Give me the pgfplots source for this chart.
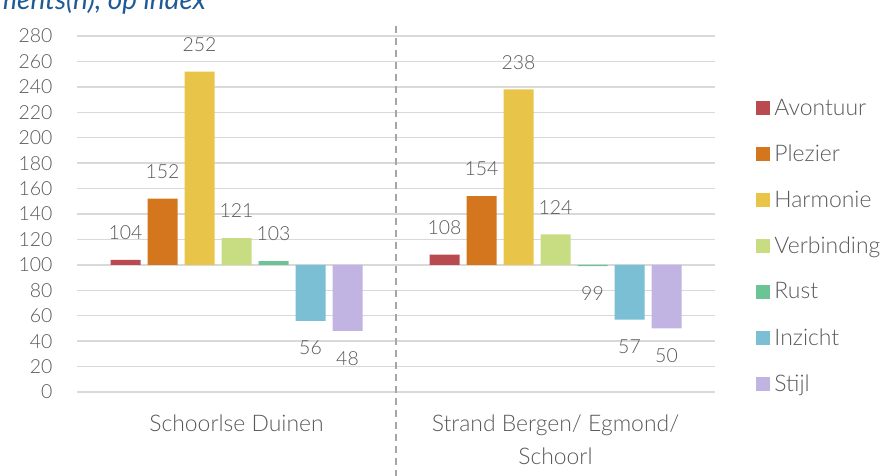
\documentclass[border=0pt]{standalone}
\usepackage{pgfplots}
\pgfplotsset{compat=1.18}
\usepackage{fontspec}
\setmainfont{Lato Light}
\newfontfamily\titlefont{Lato}
\definecolor{cAv}{RGB}{185,75,80}
\definecolor{cPl}{RGB}{212,118,30}
\definecolor{cHa}{RGB}{232,197,72}
\definecolor{cVe}{RGB}{200,220,130}
\definecolor{cRu}{RGB}{108,196,150}
\definecolor{cIn}{RGB}{122,191,211}
\definecolor{cSt}{RGB}{193,180,226}
\definecolor{txt}{RGB}{89,89,89}
\definecolor{grd}{RGB}{217,217,217}
\definecolor{dsh}{RGB}{166,166,166}
\definecolor{ttl}{RGB}{30,90,150}
\pgfplotsset{
  mybar/.style={fill=#1, draw=none,
    legend image code/.code={\fill[##1] (0bp,-7bp) rectangle (14bp,7bp);}},
}
\begin{document}
\begin{tikzpicture}
\useasboundingbox (0,0) rectangle (884bp,476bp);
\node[anchor=base west, inner sep=0, font=\titlefont\fontsize{28}{32}\selectfont\itshape, text=ttl] at (-5bp,466bp) {ments(n), op index};
\begin{axis}[
  at={(77bp,84bp)}, anchor=south west,
  scale only axis, width=638bp, height=356bp,
  xmin=-0.5, xmax=1.5, ymin=-100, ymax=180,
  clip=false,
  ybar=7bp, bar width=30bp,
  xtick={0,1},
  xticklabels={Schoorlse Duinen, {Strand Bergen/ Egmond/\\Schoorl}},
  xticklabel style={align=center, font=\fontsize{23}{33}\selectfont, text=txt, yshift=-15bp},
  ytick={-100,-80,-60,-40,-20,0,20,40,60,80,100,120,140,160,180},
  yticklabels={0,20,40,60,80,100,120,140,160,180,200,220,240,260,280},
  yticklabel style={font=\fontsize{19.5}{22}\selectfont, text=txt, xshift=-21bp},
  axis line style={draw=none},
  tick style={draw=none},
  ymajorgrids,
  grid style={grd, line width=1.3bp},
  point meta=y,
  nodes near coords={\pgfkeys{/pgf/fpu=true}\pgfmathparse{\pgfplotspointmeta+100}\pgfmathprintnumber[fixed,precision=0,assume math mode=true]{\pgfmathresult}},
  nodes near coords align=vertical,
  every node near coord/.append style={font=\fontsize{19.5}{22}\selectfont, text=txt, inner ysep=20bp},
  legend style={draw=none, fill=none, font=\fontsize{23}{26}\selectfont, text=txt,
    at={(axis description cs:1.06,0.835)}, anchor=north west, row sep=24bp,
    /tikz/every odd column/.append style={column sep=2bp}},
  legend cell align=left,
]
\addplot[mybar=cAv] coordinates {(0,4) (1,8)};
\addplot[mybar=cPl] coordinates {(0,52) (1,54)};
\addplot[mybar=cHa] coordinates {(0,152) (1,138)};
\addplot[mybar=cVe] coordinates {(0,21) (1,24)};
\addplot[mybar=cRu] coordinates {(0,3) (1,-1)};
\addplot[mybar=cIn] coordinates {(0,-44) (1,-43)};
\addplot[mybar=cSt] coordinates {(0,-52) (1,-50)};
\legend{Avontuur,Plezier,Harmonie,Verbinding,Rust,Inzicht,Stijl}
\draw[dsh, line width=1.5bp, dash pattern=on 7bp off 5bp] (axis cs:0.5,188) -- (axis cs:0.5,-166);
\end{axis}
\end{tikzpicture}
\end{document}
